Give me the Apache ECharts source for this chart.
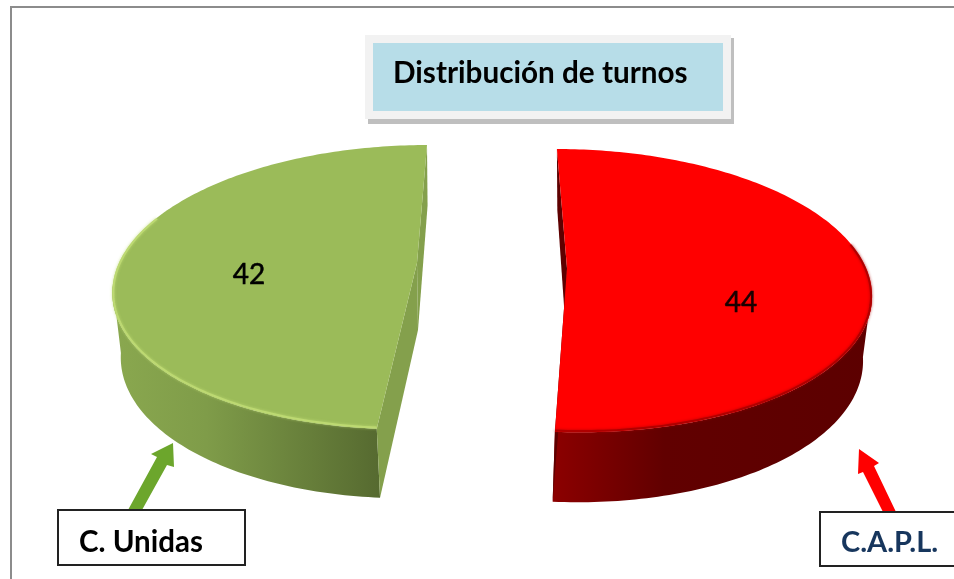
<!DOCTYPE html>
<html lang="es">
<head>
    <meta charset="UTF-8">
    <title>Distribución de turnos</title>
    <script src="https://cdn.jsdelivr.net/npm/echarts@6.0.0/dist/echarts.min.js"></script>
    <style>
        html, body { margin: 0; padding: 0; background: #fff; }
        #chart-container { width: 954px; height: 579px; }
    </style>
</head>
<body>
    <div id="chart-container"></div>

    <script>
        // data
        const titleText = 'Distribución de turnos';
        const names = ['C.A.P.L.', 'C. Unidas'];
        const values = [44, 42];

        // perspective look of each slice, clockwise from the back of the pie
        const looks = [
            {
                top: { cx: 567, cy: 268, rx: 299, ry: 138, p: 0.16, shear: -11.7 },
                bottom: { cx: 566, cy: 334, rx: 292, ry: 143, p: 0.15, shear: -10 },
                face: '#ff0000', inner: '#5e0000', rim: '#a80000',
                wall: [[0, '#8c0000'], [0.35, '#610000'], [1, '#5c0000']],
                label: [174, 35], labelColor: '#1a0000'
            },
            {
                top: { cx: 417, cy: 263, rx: 298, ry: 138, p: 0.17, shear: 11.7 },
                bottom: { cx: 418, cy: 330, rx: 292, ry: 143, p: 0.15, shear: 11 },
                face: '#9bbb59', inner: '#84a04c', rim: '#bfdc74',
                wall: [[0, '#8aa84f'], [0.35, '#7f9c49'], [1, '#566a30']],
                label: [-168, 12], labelColor: '#000'
            }
        ];

        // the outer wall only shows between these angles
        const wallRange = [99, 261];

        const total = values.reduce((a, b) => a + b, 0);

        // circle point to screen, a = degrees clockwise from the back
        function project(plane, a) {
            const t = a * Math.PI / 180;
            const u = Math.sin(t), v = Math.cos(t);
            const d = 1 + plane.p * v;
            return [
                plane.cx + (plane.rx * u + plane.shear * v) / d,
                plane.cy - plane.ry * v / d
            ];
        }

        function arc(plane, from, to) {
            const pts = [];
            const n = Math.ceil(Math.abs(to - from));
            for (let i = 0; i <= n; i++) {
                pts.push(project(plane, from + (to - from) * i / n));
            }
            return pts;
        }

        function renderSlice(params, api) {
            const look = looks[params.dataIndex];
            let before = 0;
            for (let i = 0; i < params.dataIndex; i++) before += api.value(0, i);
            const from = before / total * 360;
            const to = from + api.value(0) / total * 360;

            const topArc = arc(look.top, from, to);
            const bottomArc = arc(look.bottom, from, to);
            const topC = [look.top.cx, look.top.cy];
            const bottomC = [look.bottom.cx, look.bottom.cy];

            const wallFrom = Math.max(from, wallRange[0]), wallTo = Math.min(to, wallRange[1]);
            const wallPts = arc(look.top, wallFrom, wallTo).concat(arc(look.bottom, wallFrom, wallTo).reverse());
            const xs = wallPts.map(p => p[0]);
            const wallFill = new echarts.graphic.LinearGradient(Math.min(...xs), 0, Math.max(...xs), 0,
                look.wall.map(s => ({ offset: s[0], color: s[1] })), true);

            // front part of the rim is the only one that shines
            const rimPlane = Object.assign({}, look.top, { rx: look.top.rx - 1, ry: look.top.ry - 1 });
            const rimFrom = Math.max(from, 80), rimTo = Math.min(to, 290);

            return {
                type: 'group',
                children: [
                    {
                        type: 'polygon',
                        shape: { points: wallPts },
                        style: { fill: wallFill }
                    },
                    {
                        type: 'polygon',
                        shape: { points: [topArc[0], topC, bottomC, bottomArc[0]] },
                        style: { fill: look.inner }
                    },
                    {
                        type: 'polygon',
                        shape: { points: [topArc[topArc.length - 1], topC, bottomC, bottomArc[bottomArc.length - 1]] },
                        style: { fill: look.inner }
                    },
                    {
                        type: 'polygon',
                        shape: { points: topArc.concat([topC]) },
                        style: { fill: look.face }
                    },
                    {
                        type: 'polyline',
                        shape: { points: arc(rimPlane, rimFrom, rimTo) },
                        style: { stroke: look.rim, lineWidth: 2, fill: 'none', opacity: 0.85, shadowBlur: 3, shadowColor: look.rim }
                    },
                    {
                        type: 'text',
                        x: look.top.cx + look.label[0],
                        y: look.top.cy + look.label[1],
                        style: {
                            text: String(api.value(0)),
                            fill: look.labelColor,
                            stroke: look.labelColor,
                            lineWidth: 0.5,
                            font: '28px Lato',
                            align: 'center',
                            verticalAlign: 'middle'
                        }
                    }
                ]
            };
        }

        const chartDom = document.getElementById('chart-container');
        const myChart = echarts.init(chartDom);

        const option = {
            animation: false,
            backgroundColor: '#fff',
            title: {
                text: titleText,
                left: 388,
                top: 53,
                textStyle: { fontFamily: 'Lato', fontWeight: 'bold', fontSize: 29.7, color: '#000' }
            },
            series: [{
                type: 'custom',
                coordinateSystem: 'none',
                renderItem: renderSlice,
                data: values.map((v, i) => ({ name: names[i], value: [v] })),
                z: 3
            }],
            graphic: [
                // outer frame
                { type: 'polyline', z: 1, shape: { points: [[11, 579], [11, 7], [954, 7]] },
                  style: { stroke: '#8c8c8c', lineWidth: 2, fill: 'none' } },
                // title box
                { type: 'rect', z: 1, shape: { x: 368, y: 38, width: 366, height: 86 }, style: { fill: '#bfbfbf' } },
                { type: 'rect', z: 1, shape: { x: 365, y: 35, width: 366, height: 84 }, style: { fill: '#f2f2f2' } },
                { type: 'rect', z: 1, shape: { x: 373, y: 43, width: 350, height: 68 }, style: { fill: '#b7dde8' } },
                // arrows
                { type: 'polygon', z: 4, shape: { points: [[128, 510], [157, 457], [151, 454], [173, 443], [174, 467], [167, 465], [142, 510]] },
                  style: { fill: '#6ca62c' } },
                { type: 'polygon', z: 4, shape: { points: [[883, 512], [863, 472], [858, 474], [859, 449], [879, 463], [874, 466], [896, 512]] },
                  style: { fill: '#ff0000' } },
                // name boxes
                { type: 'rect', z: 5, shape: { x: 58, y: 510, width: 187, height: 55 }, style: { fill: '#fff', stroke: '#222', lineWidth: 2 } },
                { type: 'text', z: 6, x: 79, y: 542, style: { text: names[1], fill: '#000', font: 'bold 29.5px Lato', verticalAlign: 'middle' } },
                { type: 'rect', z: 5, shape: { x: 820, y: 512, width: 140, height: 54 }, style: { fill: '#fff', stroke: '#222', lineWidth: 2 } },
                { type: 'text', z: 6, x: 841, y: 543, style: { text: names[0], fill: '#17365d', font: 'bold 29px Lato', verticalAlign: 'middle' } }
            ]
        };

        myChart.setOption(option);

        window.addEventListener('resize', function () {
            myChart.resize();
        });
    </script>
</body>
</html>
